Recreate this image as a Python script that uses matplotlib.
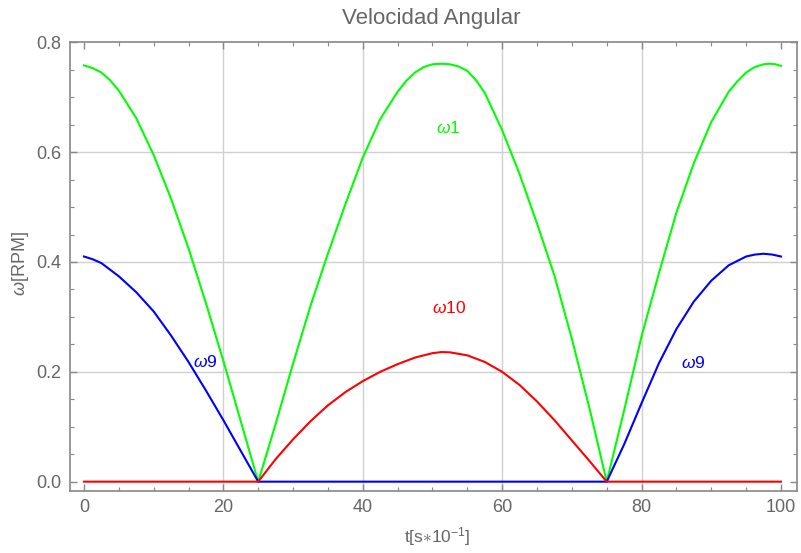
import matplotlib
matplotlib.use("Agg")
import matplotlib.pyplot as plt
from matplotlib.ticker import MultipleLocator, FormatStrFormatter

plt.rcParams['font.family'] = ['Liberation Sans', 'DejaVu Sans']
plt.rcParams['mathtext.fontset'] = 'custom'
plt.rcParams['mathtext.rm'] = 'Liberation Sans'
plt.rcParams['mathtext.it'] = 'Liberation Sans:italic'

# ---- data ----
t_w1 = [0, 1.25, 2.5, 3.75, 5, 7.5, 10, 12.5, 15, 17.5, 20, 22.5, 25,
        27.5, 30, 32.5, 35, 37.5, 40, 42.5, 45, 46.25, 47.5, 48.75, 50, 51.3,
        52.5, 53.75, 55, 56.25, 57.5, 60, 62.5, 65, 67.5, 70, 72.5, 75,
        77.5, 80, 82.5, 85, 87.5, 90, 92.5, 93.75, 95, 96.25, 97.5, 98.4, 99.2, 100]
w1 = [0.758, 0.753, 0.745, 0.731, 0.712, 0.662, 0.595, 0.515, 0.425, 0.325, 0.220, 0.110, 0.0,
      0.105, 0.215, 0.320, 0.415, 0.505, 0.590, 0.660, 0.710, 0.730, 0.745, 0.755, 0.760, 0.761,
      0.760, 0.756, 0.748, 0.731, 0.708, 0.640, 0.560, 0.470, 0.375, 0.260, 0.135, 0.0,
      0.130, 0.265, 0.380, 0.490, 0.580, 0.655, 0.710, 0.729, 0.745, 0.755, 0.760, 0.761, 0.760, 0.757]

t_w9 = [0, 1.25, 2.5, 5, 7.5, 10, 12.5, 15, 17.5, 20, 22.5, 25, 75,
        77.5, 80, 82.5, 85, 87.5, 90, 92.5, 95, 96.25, 97.5, 98.75, 100]
w9 = [0.410, 0.405, 0.398, 0.374, 0.345, 0.310, 0.266, 0.218, 0.166, 0.112, 0.056, 0.0, 0.0,
      0.068, 0.143, 0.216, 0.278, 0.328, 0.366, 0.394, 0.410, 0.4135, 0.415, 0.4135, 0.410]

t_w10 = [0, 25, 27.5, 30, 32.5, 35, 37.5, 40, 42.5, 45, 47.5, 50, 51.3,
         52.5, 55, 57.5, 60, 62.5, 65, 67.5, 70, 72.5, 75, 100]
w10 = [0.0, 0.0, 0.041, 0.077, 0.110, 0.139, 0.163, 0.183, 0.200, 0.214, 0.226, 0.234, 0.236,
       0.2355, 0.230, 0.218, 0.200, 0.176, 0.146, 0.112, 0.075, 0.038, 0.0, 0.0]

labels = [r"$\omega$1", r"$\omega$10", r"$\omega$9", r"$\omega$9"]
label_t = [52.2, 52.4, 17.4, 87.4]
label_v = [0.644, 0.316, 0.218, 0.216]
label_colors = ["#00ff00", "#ff0000", "#0000ff", "#0000ff"]

title = "Velocidad Angular"
xlabel = r"t[s$\ast$10$^{-1}$]"
ylabel = r"$\omega$[RPM]"

gray = "#666666"
frame = "#888888"

fig = plt.figure(figsize=(8.01, 5.53), dpi=100)
ax = fig.add_axes([0.0874, 0.1127, 0.9072, 0.8108])

ax.plot(t_w1, w1, color="#00ff00", lw=1.5, zorder=3)
ax.plot(t_w9, w9, color="#0000ff", lw=1.5, zorder=3)
ax.plot(t_w10, w10, color="#ff0000", lw=1.5, zorder=4)

for s, tx, vy, c in zip(labels, label_t, label_v, label_colors):
    ax.text(tx, vy, s, color=c, fontsize=12.5, ha="center", va="center", zorder=5)

ax.set_xlim(-2.0, 102.25)
ax.set_ylim(-0.0164, 0.8)

ax.xaxis.set_major_locator(MultipleLocator(20))
ax.xaxis.set_minor_locator(MultipleLocator(5))
ax.yaxis.set_major_locator(MultipleLocator(0.2))
ax.yaxis.set_minor_locator(MultipleLocator(0.05))
ax.yaxis.set_major_formatter(FormatStrFormatter('%.1f'))

for g in [20, 40, 60, 80]:
    ax.axvline(g, color="#d0d0d0", lw=1.0, zorder=1)
for g in [0.2, 0.4, 0.6]:
    ax.axhline(g, color="#d0d0d0", lw=1.0, zorder=1)

ax.tick_params(which="both", direction="in", top=True, right=True, colors=frame,
               labelcolor=gray, labelsize=13)
ax.tick_params(which="major", length=5, width=1)
ax.tick_params(which="minor", length=3, width=0.8)
ax.tick_params(axis="x", pad=6)
ax.tick_params(axis="y", pad=6)
for sp in ax.spines.values():
    sp.set_color(frame)
    sp.set_linewidth(1.2)

fig.text(0.5387, 0.967, title, color=gray, fontsize=16, ha="center", va="center")
fig.text(0.546, 0.029, xlabel, color=gray, fontsize=12.5, ha="center", va="center")
fig.text(0.025, 0.524, ylabel, color=gray, fontsize=13, ha="center", va="center", rotation=90)

fig.savefig("out.png", dpi=100)
